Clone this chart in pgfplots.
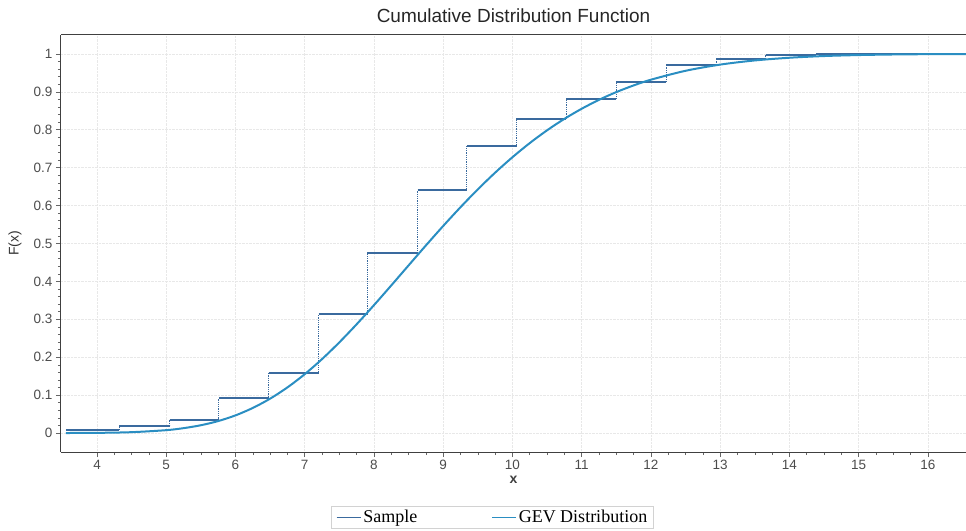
\documentclass[border=0pt]{standalone}
\usepackage{fontspec}
\setmainfont{Liberation Sans}
\newfontfamily\legendfont{Liberation Serif}
\usepackage{pgfplots}
\pgfplotsset{compat=1.18}

\definecolor{samplecol}{HTML}{3A6A9E}
\definecolor{gevcol}{HTML}{2A8EC2}

\begin{document}
\begin{tikzpicture}
\begin{axis}[
  name=ax,
  scale only axis,
  width=905pt, height=417pt,
  xmin=3.48, xmax=16.55,
  ymin=-0.05, ymax=1.05,
  xtick={4,5,...,16},
  ytick={0,0.1,...,1.0},
  minor x tick num=3,
  minor y tick num=4,
  axis x line=box, axis y line=left,
  axis line style={-, black!75, line width=1pt},
  xtick pos=lower, ytick pos=left,
  tick align=outside,
  major tick length=5pt, minor tick length=3pt,
  tick style={black!60, line width=0.6pt},
  grid=major,
  grid style={densely dotted, gray!18, line width=0.6pt},
  /pgf/number format/assume math mode=true,
  tick label style={font=\fontsize{13.5}{15}\selectfont, text=black!70},
  title={Cumulative Distribution Function},
  title style={font=\fontsize{19}{21}\selectfont, text=black!85, at={(0.5,1)}, anchor=south, yshift=3pt},
  xlabel={x},
  xlabel style={font=\fontsize{14}{16}\selectfont\bfseries, text=black!75, at={(axis description cs:0.5,-0.067)}, anchor=center},
  ylabel={F(x)},
  every axis y label/.style={at={(axis description cs:-0.0508,0.5)}, rotate=90, anchor=center, font=\fontsize{14}{16}\selectfont, text=black!80},
  legend columns=2,
  legend style={at={(axis description cs:0.4768,-0.1295)}, anchor=north, draw=gray!35, line width=0.8pt,
    font=\legendfont\fontsize{18}{20}\selectfont, inner xsep=4pt, inner ysep=2pt,
    /tikz/every even column/.append style={column sep=72pt}},
  legend image code/.code={\draw[#1, line width=1.5pt] (0pt,0pt) -- (24pt,0pt);},
]
% vertical dotted connectors of the empirical CDF
\addplot[const plot, samplecol, densely dotted, line width=0.8pt, forget plot] coordinates {
  (3.55,0.008) (4.32,0.019) (5.05,0.034) (5.76,0.092) (6.48,0.158)
  (7.20,0.313) (7.91,0.476) (8.63,0.640) (9.34,0.757) (10.06,0.829)
  (10.78,0.882) (11.50,0.926) (12.22,0.970) (12.94,0.987) (13.66,0.997)
  (14.38,1.000) (16.55,1.000)
};
% horizontal steps
\addplot[jump mark left, samplecol, line width=2pt] coordinates {
  (3.55,0.008) (4.32,0.019) (5.05,0.034) (5.76,0.092) (6.48,0.158)
  (7.20,0.313) (7.91,0.476) (8.63,0.640) (9.34,0.757) (10.06,0.829)
  (10.78,0.882) (11.50,0.926) (12.22,0.970) (12.94,0.987) (13.66,0.997)
  (14.38,1.000) (16.55,1.000)
};
\addlegendentry{Sample}
\addplot[gevcol, line width=2pt, smooth] coordinates {
  (3.55,0.0001) (4.00,0.0005) (4.50,0.0023) (5.00,0.0076) (5.25,0.0129)
  (5.50,0.0206) (5.75,0.0316) (6.00,0.0466) (6.25,0.0662) (6.50,0.0907)
  (6.75,0.1204) (7.00,0.1553) (7.25,0.1951) (7.50,0.2393) (7.75,0.2870)
  (8.00,0.3374) (8.25,0.3895) (8.50,0.4423) (8.75,0.4949) (9.00,0.5463)
  (9.25,0.5958) (9.50,0.6429) (9.75,0.6869) (10.00,0.7276) (10.25,0.7649)
  (10.50,0.7986) (10.75,0.8288) (11.00,0.8555) (11.25,0.8790) (11.50,0.8994)
  (11.75,0.9170) (12.00,0.9321) (12.50,0.9556) (13.00,0.9719) (13.50,0.9829)
  (14.00,0.9900) (14.50,0.9945) (15.00,0.9971) (15.50,0.9986) (16.00,0.9994)
  (16.55,0.9998)
};
\addlegendentry{GEV Distribution}
\end{axis}
\pgfresetboundingbox
\path ([shift={(-61pt,-78pt)}]ax.south west) rectangle ([shift={(0pt,35pt)}]ax.north east);
\end{tikzpicture}
\end{document}
